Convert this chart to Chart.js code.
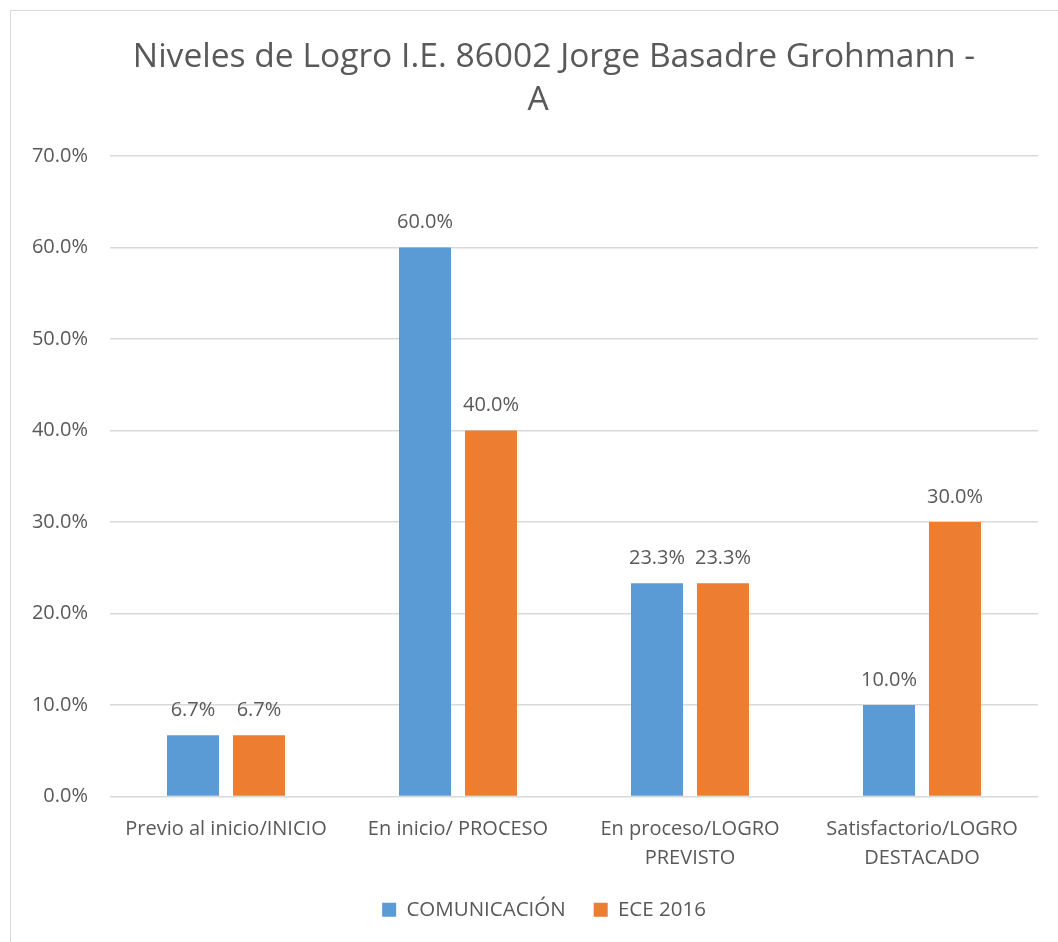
<!DOCTYPE html>
<html>
<head>
<meta charset="utf-8">
<script src="https://cdn.jsdelivr.net/npm/chart.js@4.4.0/dist/chart.umd.min.js"></script>
<style>
  html, body { margin: 0; padding: 0; background: #fff; }
  #wrap { position: absolute; left: 0; top: 0; width: 1058px; height: 942px; }
  #frame { position: absolute; left: 10px; top: 10px; width: 1060px; height: 940px;
           border-left: 1px solid #d9d9d9; border-top: 1px solid #d9d9d9; }
  canvas { position: absolute; left: 0; top: 0; }
</style>
</head>
<body>
<div id="wrap">
  <div id="frame"></div>
  <canvas id="c" width="1058" height="942"></canvas>
</div>
<script>
const titleLines = ["Niveles de Logro I.E. 86002 Jorge Basadre Grohmann -", "A"];
const categories = [
  ["Previo al inicio/INICIO"],
  ["En inicio/ PROCESO"],
  ["En proceso/LOGRO", "PREVISTO"],
  ["Satisfactorio/LOGRO", "DESTACADO"]
];
const seriesNames = ["COMUNICACIÓN", "ECE 2016"];
const comunicacion = [6.7, 60.0, 23.3, 10.0];
const ece2016 = [6.7, 40.0, 23.3, 30.0];
const yTicks = [0, 10, 20, 30, 40, 50, 60, 70];

const FONT = "'Open Sans', 'DejaVu Sans', sans-serif";
const TXT = '#595959';

const dataLabels = {
  id: 'dataLabels',
  afterDatasetsDraw(chart) {
    const ctx = chart.ctx;
    ctx.save();
    ctx.font = "20px " + FONT;
    ctx.fillStyle = TXT;
    ctx.textAlign = 'center';
    ctx.textBaseline = 'middle';
    chart.data.datasets.forEach((ds, i) => {
      const meta = chart.getDatasetMeta(i);
      meta.data.forEach((el, j) => {
        ctx.fillText(ds.data[j].toFixed(1) + '%', el.x, el.y - 25);
      });
    });
    ctx.restore();
  }
};

const titleDraw = {
  id: 'titleDraw',
  afterDraw(chart) {
    const ctx = chart.ctx;
    ctx.save();
    ctx.font = "33.6px " + FONT;
    ctx.fillStyle = TXT;
    ctx.textAlign = 'center';
    ctx.textBaseline = 'middle';
    ctx.fillText(titleLines[0], 554, 57);
    ctx.fillText(titleLines[1], 538, 100);
    ctx.restore();
  }
};

const legendShift = {
  id: 'legendShift',
  afterLayout(chart) {
    if (chart.legend) { chart.legend.left += 40; }
  }
};

new Chart(document.getElementById('c'), {
  type: 'bar',
  data: {
    labels: categories,
    datasets: [
      { label: seriesNames[0], data: comunicacion, backgroundColor: '#5B9BD5',
        categoryPercentage: 0.569, barPercentage: 0.788 },
      { label: seriesNames[1], data: ece2016, backgroundColor: '#ED7D31',
        categoryPercentage: 0.569, barPercentage: 0.788 }
    ]
  },
  options: {
    responsive: false,
    animation: false,
    devicePixelRatio: 1,
    layout: { padding: { left: 10, right: 20, top: 156, bottom: 12 } },
    plugins: {
      title: { display: false },
      legend: {
        position: 'bottom',
        labels: {
          color: TXT,
          font: { family: FONT, size: 20.5 },
          boxWidth: 14, boxHeight: 14,
          padding: 28
        }
      },
      tooltip: { enabled: false }
    },
    scales: {
      x: {
        grid: { display: false },
        border: { display: false },
        afterFit: (s) => { s.height = 75; },
        ticks: { color: TXT, font: { family: FONT, size: 20, lineHeight: 1.45 }, padding: 10, maxRotation: 0, autoSkip: false }
      },
      y: {
        min: 0, max: 70,
        afterBuildTicks: (s) => { s.ticks = yTicks.map(v => ({ value: v })); },
        afterFit: (s) => { s.width = 100; },
        grid: { color: '#d9d9d9', lineWidth: 1.5, drawTicks: false },
        border: { display: false },
        ticks: { color: TXT, font: { family: FONT, size: 20 }, padding: 22,
                 callback: (v) => v.toFixed(1) + '%' }
      }
    }
  },
  plugins: [dataLabels, titleDraw, legendShift]
});
</script>
</body>
</html>
